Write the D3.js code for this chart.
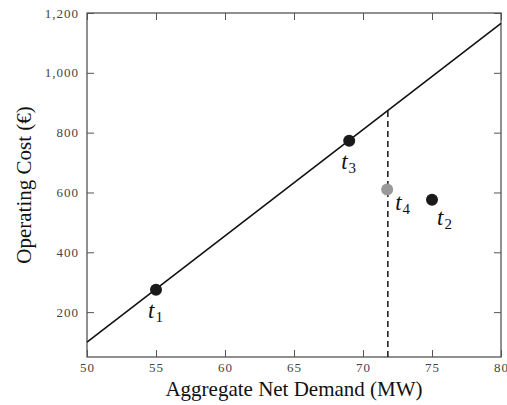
<!DOCTYPE html>
<html>
<head>
<meta charset="utf-8">
<script src="https://cdn.jsdelivr.net/npm/d3@7"></script>
<style>
  body { margin: 0; background: #fff; }
  svg text { font-family: "Liberation Serif", "DejaVu Serif", serif; }
</style>
</head>
<body>
<div id="chart"></div>
<script>
// Cost curve (straight line) and the four operating points
const lineDemand = [50, 80];
const lineCost = [100, 1165];

const pointNames = ['1', '3', '4', '2'];
const pointDemand = [55, 69, 71.75, 75];
const pointCost = [275, 773, 610, 576];
const pointColor = ['#1a1a1a', '#1a1a1a', '#999999', '#1a1a1a'];

// dashed marker at the forecast demand
const markerDemand = 71.8;

const xTicks = [50, 55, 60, 65, 70, 75, 80];
const yTicks = [200, 400, 600, 800, 1000, 1200];

// label offsets (px) relative to each point
const labelDx = [-8, -8, 8, 5];
const labelDy = [28, 28, 21, 25];

const width = 507, height = 405;
const margin = { top: 13, right: 6, bottom: 48, left: 87 };
const innerW = width - margin.left - margin.right;
const innerH = height - margin.top - margin.bottom;

const svg = d3.select('#chart')
  .append('svg')
  .attr('width', width)
  .attr('height', height);

const g = svg.append('g')
  .attr('transform', `translate(${margin.left},${margin.top})`);

const x = d3.scaleLinear().domain([50, 80]).range([0, innerW]);
const y = d3.scaleLinear().domain([50, 1200]).range([innerH, 0]);

const tickLen = 7;
const axisColor = '#555';

// Bottom axis with labels
const xAxis = g.append('g')
  .attr('transform', `translate(0,${innerH})`)
  .call(d3.axisBottom(x).tickValues(xTicks).tickSize(-tickLen).tickPadding(6));

// Top mirrored ticks
const xAxisTop = g.append('g')
  .call(d3.axisTop(x).tickValues(xTicks).tickSize(-tickLen).tickFormat(''));

// Left axis with labels
const yAxis = g.append('g')
  .call(d3.axisLeft(y).tickValues(yTicks).tickSize(-tickLen).tickPadding(8)
    .tickFormat(d3.format(',')));

// Right mirrored ticks
const yAxisRight = g.append('g')
  .attr('transform', `translate(${innerW},0)`)
  .call(d3.axisRight(y).tickValues(yTicks).tickSize(-tickLen).tickFormat(''));

[xAxis, xAxisTop, yAxis, yAxisRight].forEach(a => {
  a.attr('font-family', null);
  a.select('.domain').remove();
  a.selectAll('.tick line').attr('stroke', axisColor).attr('stroke-width', 1);
  a.selectAll('.tick text')
    .attr('fill', '#444')
    .style('font-size', '13px')
    .style('letter-spacing', '1px')
    .style('font-family', '"Liberation Serif", serif');
});

// Frame
g.append('rect')
  .attr('x', 0)
  .attr('y', 0)
  .attr('width', innerW)
  .attr('height', innerH)
  .attr('fill', 'none')
  .attr('stroke', axisColor)
  .attr('stroke-width', 1.3);

// Cost line
const lineData = lineDemand.map((d, i) => [d, lineCost[i]]);
g.append('path')
  .datum(lineData)
  .attr('fill', 'none')
  .attr('stroke', '#111')
  .attr('stroke-width', 1.6)
  .attr('d', d3.line().x(d => x(d[0])).y(d => y(d[1])));

// Dashed vertical marker from the bottom to the cost line
const slope = (lineCost[1] - lineCost[0]) / (lineDemand[1] - lineDemand[0]);
const markerTop = lineCost[0] + slope * (markerDemand - lineDemand[0]);
g.append('line')
  .attr('x1', x(markerDemand))
  .attr('x2', x(markerDemand))
  .attr('y1', y(50))
  .attr('y2', y(markerTop))
  .attr('stroke', '#222')
  .attr('stroke-width', 1.6)
  .attr('stroke-dasharray', '6,4');

// Points
g.selectAll('.pt')
  .data(pointDemand)
  .enter()
  .append('circle')
  .attr('class', 'pt')
  .attr('cx', d => x(d))
  .attr('cy', (d, i) => y(pointCost[i]))
  .attr('r', 6)
  .attr('fill', (d, i) => pointColor[i]);

// Point labels t_i
const labels = g.selectAll('.lbl')
  .data(pointDemand)
  .enter()
  .append('text')
  .attr('class', 'lbl')
  .attr('x', (d, i) => x(d) + labelDx[i])
  .attr('y', (d, i) => y(pointCost[i]) + labelDy[i])
  .attr('fill', '#111');

labels.append('tspan')
  .style('font-style', 'italic')
  .style('font-size', '23px')
  .text('t');
labels.append('tspan')
  .attr('dy', 4)
  .attr('dx', 1)
  .style('font-size', '15px')
  .text((d, i) => pointNames[i]);

// Axis titles
svg.append('text')
  .attr('x', margin.left + innerW / 2)
  .attr('y', 396)
  .attr('text-anchor', 'middle')
  .attr('fill', '#111')
  .style('font-size', '21px')
  .text('Aggregate Net Demand (MW)');

svg.append('text')
  .attr('transform', `translate(31,${margin.top + innerH / 2}) rotate(-90)`)
  .attr('text-anchor', 'middle')
  .attr('fill', '#111')
  .style('font-size', '21px')
  .text('Operating Cost (€)');
</script>
</body>
</html>
